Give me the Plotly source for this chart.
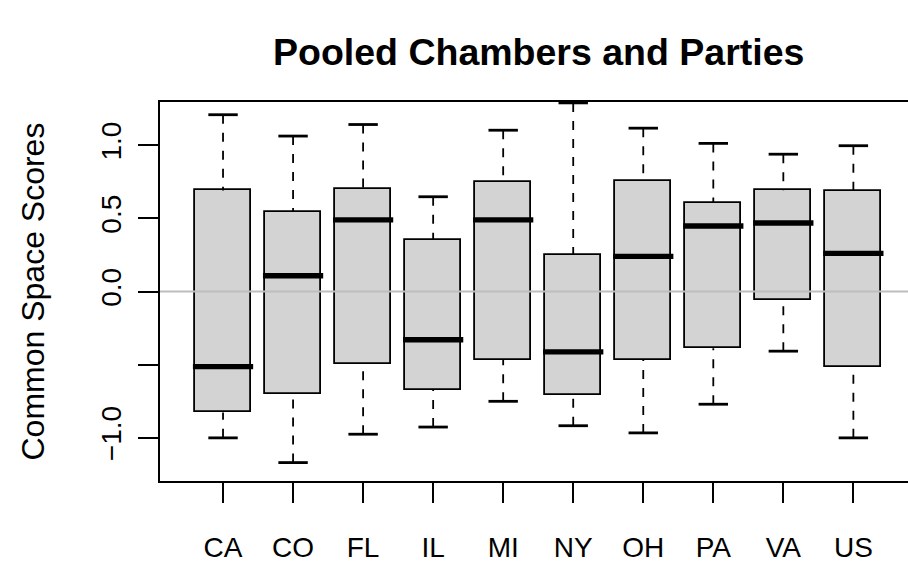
import plotly.graph_objects as go

# ---- data ----
categories = ["CA", "CO", "FL", "IL", "MI", "NY", "OH", "PA", "VA", "US"]
lower_whisker = [-1.001, -1.170, -0.976, -0.927, -0.751, -0.918, -0.967, -0.771, -0.408, -1.001]
q1 = [-0.827, -0.699, -0.496, -0.674, -0.467, -0.708, -0.469, -0.388, -0.057, -0.514]
median = [-0.514, 0.108, 0.490, -0.330, 0.490, -0.413, 0.240, 0.448, 0.468, 0.261]
q3 = [0.691, 0.547, 0.702, 0.355, 0.750, 0.250, 0.756, 0.608, 0.691, 0.684]
upper_whisker = [1.209, 1.063, 1.142, 0.648, 1.103, 1.290, 1.117, 1.013, 0.939, 0.997]

y_tickvals = [-1.0, -0.5, 0.0, 0.5, 1.0]
y_ticktext = ["\u22121.0", "", "0.0", "0.5", "1.0"]

title_text = "Pooled Chambers and Parties"
ylab_text = "Common Space Scores"

FONT = "Liberation Sans, Arial, Helvetica, sans-serif"
pos = list(range(1, len(categories) + 1))
BOXW = 0.8
CAPW = 0.21
MEDW = 0.43

fig = go.Figure()

# boxes
fig.add_trace(go.Bar(
    x=pos, base=q1, y=[b - a for a, b in zip(q1, q3)], width=BOXW,
    marker=dict(color="#d3d3d3", line=dict(color="black", width=1.8)),
    hoverinfo="skip", showlegend=False,
))

# whiskers (dashed)
wx, wy = [], []
for p, lo, a, b, hi in zip(pos, lower_whisker, q1, q3, upper_whisker):
    wx += [p, p, None, p, p, None]
    wy += [hi, b, None, lo, a, None]
fig.add_trace(go.Scatter(x=wx, y=wy, mode="lines",
                         line=dict(color="black", width=1.8, dash="9px,9px"),
                         hoverinfo="skip", showlegend=False))

# caps
cx, cy = [], []
for p, lo, hi in zip(pos, lower_whisker, upper_whisker):
    cx += [p - CAPW, p + CAPW, None, p - CAPW, p + CAPW, None]
    cy += [hi, hi, None, lo, lo, None]
fig.add_trace(go.Scatter(x=cx, y=cy, mode="lines",
                         line=dict(color="black", width=2.8),
                         hoverinfo="skip", showlegend=False))

# medians
mx, my = [], []
for p, m in zip(pos, median):
    mx += [p - MEDW, p + MEDW, None]
    my += [m, m, None]
fig.add_trace(go.Scatter(x=mx, y=my, mode="lines",
                         line=dict(color="black", width=5.4),
                         hoverinfo="skip", showlegend=False))

# zero reference line
fig.add_shape(type="line", xref="paper", x0=0, x1=1, yref="y", y0=0, y1=0,
              line=dict(color="#bebebe", width=2), layer="above")

fig.update_layout(
    width=908, height=563,
    margin=dict(l=160, r=0, t=102, b=77, pad=0),
    paper_bgcolor="white", plot_bgcolor="white",
    font=dict(family=FONT, color="black"),
    showlegend=False,
    bargap=0,
)

fig.update_xaxes(
    range=[0.1, 10.78], tickmode="array", tickvals=pos, ticktext=categories,
    showline=True, linecolor="black", linewidth=1.8, mirror=True,
    ticks="outside", ticklen=20, tickwidth=1.8, tickcolor="black",
    tickfont=dict(size=28, family=FONT, color="black"),
    ticklabelstandoff=20,
    showgrid=False, zeroline=False,
)
fig.update_yaxes(
    range=[-1.296, 1.296], tickmode="array", tickvals=y_tickvals, ticktext=y_ticktext,
    showline=True, linecolor="black", linewidth=1.8, mirror=False,
    ticks="outside", ticklen=20, tickwidth=1.8, tickcolor="black",
    tickangle=-90,
    tickfont=dict(size=28, family=FONT, color="black"),
    ticklabelstandoff=6,
    showgrid=False, zeroline=False,
)

# title
fig.add_annotation(text="<b>" + title_text + "</b>", xref="paper", yref="paper",
                   x=(538.6 - 160) / 748, y=1, xanchor="center", yanchor="middle",
                   yshift=102 - 52, showarrow=False,
                   font=dict(size=37.5, family=FONT, color="black"))
# y-axis label
fig.add_annotation(text=ylab_text, xref="paper", yref="paper",
                   x=0, y=0.5, xanchor="center", yanchor="middle",
                   xshift=32 - 160, textangle=-90, showarrow=False,
                   font=dict(size=32, family=FONT, color="black"))

fig.write_html("out.html")
